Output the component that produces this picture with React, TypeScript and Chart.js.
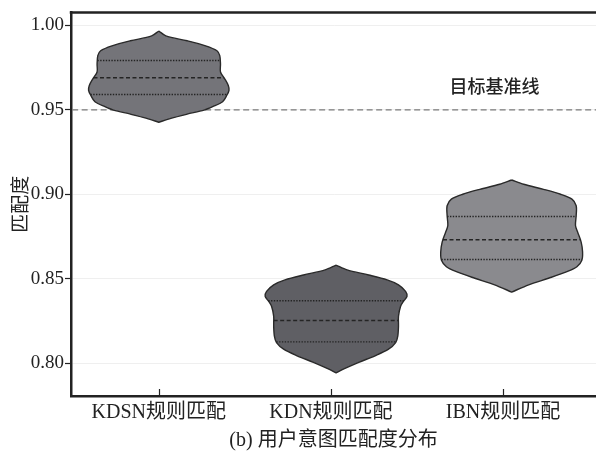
import React, { useEffect, useRef } from "react";
import { Chart, registerables } from "chart.js";

Chart.register(...registerables);

// ---- data ----
const categories = ["KDSN规则匹配", "KDN规则匹配", "IBN规则匹配"];
const violinCenters = [0, 1.03, 2.05];
const yTicks = [0.8, 0.85, 0.9, 0.95, 1.0];
const targetLevel = 0.95;
const targetLabel = "目标基准线";
const yTitle = "匹配度";
const xTitle = "(b) 用户意图匹配度分布";

// kernel density profiles: sampled values (top to bottom) and relative density
const kdsnLevels = [0.9967, 0.9938, 0.9909, 0.9879, 0.985, 0.9821, 0.9772, 0.9724, 0.9684, 0.9645, 0.9616, 0.9587, 0.9548, 0.9519, 0.9499, 0.9475, 0.945, 0.9427];
const kdsnDensity = [0, 0.1, 0.4, 0.66, 0.82, 0.86, 0.87, 0.87, 0.93, 0.98, 0.99, 0.96, 0.9, 0.76, 0.64, 0.4, 0.17, 0];
const kdsnQuartiles = [0.9591, 0.969, 0.9792];

const kdnLevels = [0.8582, 0.8553, 0.8523, 0.8494, 0.8465, 0.8426, 0.8396, 0.8367, 0.8338, 0.8279, 0.8221, 0.8162, 0.8123, 0.8084, 0.8045, 0.8006, 0.7967, 0.7944];
const kdnDensity = [0, 0.155, 0.46, 0.72, 0.88, 0.98, 1.0, 0.95, 0.91, 0.88, 0.88, 0.87, 0.84, 0.74, 0.55, 0.32, 0.11, 0];
const kdnQuartiles = [0.8127, 0.8254, 0.8371];

const ibnLevels = [0.9085, 0.906, 0.903, 0.9001, 0.8972, 0.8933, 0.8875, 0.8816, 0.8777, 0.8718, 0.866, 0.8611, 0.8572, 0.8543, 0.8504, 0.8465, 0.8422];
const ibnDensity = [0, 0.17, 0.45, 0.69, 0.85, 0.91, 0.91, 0.9, 0.93, 0.98, 1.0, 0.99, 0.92, 0.78, 0.52, 0.24, 0];
const ibnQuartiles = [0.8615, 0.8732, 0.8869];

// ---- styling ----
const HALF_WIDTH = 0.412;
const fills = ["#747479", "#5f5f64", "#8a8a8e"];
const ink = "#222222";
const serif = "'Liberation Serif', 'Noto Sans CJK SC', serif";

type Pt = { x: number; y: number };

// closed outline: down the left side, then back up the right side.
// The lower tip is repeated so the spline keeps it pointed.
function outline(center: number, levels: number[], density: number[]): Pt[] {
  const left = levels.map((v, i) => ({ x: center - HALF_WIDTH * density[i], y: v }));
  const right = levels
    .slice(0, -1)
    .map((v, i) => ({ x: center + HALF_WIDTH * density[i], y: v }))
    .reverse();
  const tip = left[left.length - 1];
  return [...left, { x: tip.x, y: tip.y }, ...right];
}

function densityAt(levels: number[], density: number[], v: number): number {
  for (let i = 0; i < levels.length - 1; i++) {
    const a = levels[i];
    const b = levels[i + 1];
    if (v <= a && v >= b) {
      const t = (a - v) / (a - b);
      return density[i] + t * (density[i + 1] - density[i]);
    }
  }
  return 0;
}

const violins = [
  { levels: kdsnLevels, density: kdsnDensity, quartiles: kdsnQuartiles },
  { levels: kdnLevels, density: kdnDensity, quartiles: kdnQuartiles },
  { levels: ibnLevels, density: ibnDensity, quartiles: ibnQuartiles },
];

const framePlugin = {
  id: "frame",
  afterDraw(chart: any) {
    const { ctx, chartArea, scales } = chart;
    ctx.save();
    // top frame line
    ctx.strokeStyle = ink;
    ctx.lineWidth = 2.5;
    ctx.beginPath();
    ctx.moveTo(chartArea.left - 1.25, chartArea.top);
    ctx.lineTo(chartArea.right, chartArea.top);
    ctx.stroke();
    // inward tick marks on the category axis
    ctx.lineWidth = 1.2;
    scales.x.ticks.forEach((t: any) => {
      const px = Math.round(scales.x.getPixelForValue(t.value)) + 0.5;
      ctx.beginPath();
      ctx.moveTo(px, chartArea.bottom);
      ctx.lineTo(px, chartArea.bottom - 7);
      ctx.stroke();
    });
    // label of the reference line
    ctx.fillStyle = ink;
    ctx.font = "500 18px 'Noto Sans CJK SC', sans-serif";
    ctx.textAlign = "center";
    ctx.textBaseline = "middle";
    ctx.fillText(
      targetLabel,
      scales.x.getPixelForValue(1.95),
      scales.y.getPixelForValue(targetLevel) - 24
    );
    ctx.restore();
  },
};

export default function App() {
  const ref = useRef<HTMLCanvasElement | null>(null);

  useEffect(() => {
    if (!ref.current) return;
    const datasets: any[] = [];

    datasets.push({
      data: [
        { x: -1, y: targetLevel },
        { x: 3, y: targetLevel },
      ],
      showLine: true,
      borderColor: "#7a7a7a",
      borderWidth: 1.4,
      borderDash: [6, 3.5],
      pointRadius: 0,
      fill: false,
      order: 3,
    });

    violins.forEach((v, k) => {
      datasets.push({
        data: outline(violinCenters[k], v.levels, v.density),
        showLine: true,
        borderColor: "#2a2a2a",
        borderWidth: 1.4,
        borderJoinStyle: "round",
        backgroundColor: fills[k],
        fill: "shape",
        tension: 0.3,
        pointRadius: 0,
        order: 2,
      });
      v.quartiles.forEach((q, j) => {
        const w = HALF_WIDTH * densityAt(v.levels, v.density, q);
        datasets.push({
          data: [
            { x: violinCenters[k] - w, y: q },
            { x: violinCenters[k] + w, y: q },
          ],
          showLine: true,
          borderColor: "#242424",
          borderWidth: j === 1 ? 1.4 : 1.4,
          borderDash: j === 1 ? [4, 2.5] : [1.4, 1.4],
          pointRadius: 0,
          fill: false,
          order: 1,
        });
      });
    });

    const chart = new Chart(ref.current, {
      type: "scatter",
      data: { datasets },
      plugins: [framePlugin],
      options: {
        animation: false,
        responsive: false,
        layout: { padding: { left: 0, right: 0, top: 8, bottom: 0 } },
        plugins: { legend: { display: false }, tooltip: { enabled: false } },
        scales: {
          x: {
            type: "linear",
            min: -0.51,
            max: 2.54,
            afterBuildTicks: (s: any) => {
              s.ticks = categories.map((_, i) => ({ value: i }));
            },
            afterFit: (s: any) => {
              s.height = 60;
            },
            grid: { display: false, drawTicks: false },
            border: { display: true, color: ink, width: 2.5 },
            ticks: {
              autoSkip: false,
              maxRotation: 0,
              padding: 5,
              color: ink,
              font: { family: serif, size: 20 },
              callback: (v: any) => categories[Number(v)] ?? "",
            },
            title: {
              display: true,
              text: xTitle,
              color: ink,
              font: { family: serif, size: 20 },
              padding: { top: 0, bottom: 3 },
            },
          },
          y: {
            min: 0.7807,
            max: 1.0077,
            afterBuildTicks: (s: any) => {
              s.ticks = yTicks.map((v) => ({ value: v }));
            },
            afterFit: (s: any) => {
              s.width = 71;
            },
            grid: {
              color: "#efefef",
              lineWidth: 1,
              drawTicks: true,
              tickLength: 6,
              tickColor: ink,
              tickWidth: 1.2,
            },
            border: { display: true, color: ink, width: 2.5 },
            ticks: {
              padding: 1,
              color: ink,
              font: { family: serif, size: 19 },
              callback: (v: any) => Number(v).toFixed(2),
            },
            title: {
              display: true,
              text: yTitle,
              color: ink,
              font: { family: serif, size: 19 },
              padding: { top: 11, bottom: 0 },
            },
          },
        },
      },
    });
    return () => chart.destroy();
  }, []);

  return (
    <div style={{ position: "absolute", left: 0, top: 0, width: 596, height: 456, background: "#fff" }}>
      <canvas ref={ref} width={596} height={456} />
    </div>
  );
}
